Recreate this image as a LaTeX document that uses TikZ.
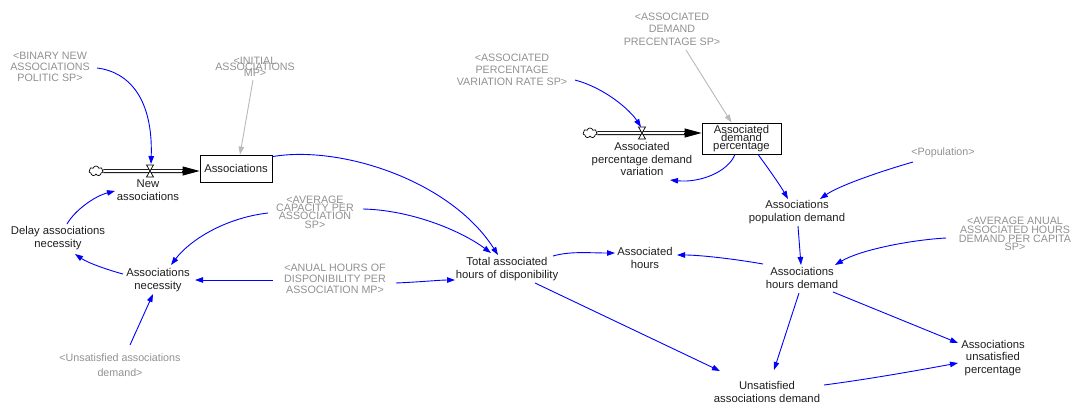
\documentclass[tikz,border=0pt]{standalone}
\usepackage{fontspec}
\setmainfont{Liberation Sans}
\usetikzlibrary{arrows.meta,calc,shapes.symbols}
\definecolor{linkblue}{RGB}{0,0,255}
\definecolor{ghosttext}{RGB}{145,145,145}
\definecolor{ghostlink}{RGB}{185,185,185}
\definecolor{ink}{RGB}{30,30,30}

\begin{document}
\begin{tikzpicture}[x=1pt,y=-1pt,
  var/.style={font={\fontsize{11.3}{#1}\selectfont\lineskiplimit=-20pt}, text=ink, align=center, inner sep=1pt},
  var/.default=12.5,
  ghost/.style={font={\fontsize{10.7}{#1}\selectfont\lineskiplimit=-20pt}, text=ghosttext, align=center, inner sep=1pt},
  ghost/.default=12,
  level/.style={draw=black, line width=0.8pt, fill=white, minimum width=72pt, minimum height=27pt, inner sep=0pt},
  link/.style={draw=linkblue, line width=0.9pt, -{Triangle[length=8pt,width=5.5pt]}},
  glink/.style={draw=ghostlink, line width=0.9pt, -{Triangle[length=8pt,width=5.5pt]}},
  pipe/.style={draw=black, double=white, double distance=2.4pt, line width=0.8pt},
  flowtip/.style={-{Triangle[length=17pt,width=9pt]}, line width=0.8pt},
  source/.style={cloud, cloud puffs=7, aspect=1.4, draw, line width=0.7pt, inner sep=0pt, minimum width=14pt, minimum height=10pt},
  valve/.pic={\draw[fill=white, line width=0.7pt] (-3.5,-6) -- (3.5,-6) -- (-3.5,6) -- (3.5,6) -- cycle;},
]
\useasboundingbox (0,0) rectangle (1072,405);

% ---- stock and flow: Associations ----
\node[ghost=11.3] (binary) at (50,67) {<BINARY NEW\\ASSOCIATIONS\\POLITIC SP>};
\node[ghost=5.7] (initial) at (255,67) {<INITIAL\\ASSOCIATIONS\\MP>};
\node[source] (cloudA) at (96,171) {};
\coordinate (valveA) at (150,171);
\node[var] (newassoc) at (148,190) {New\\associations};
\node[var,level] (assoc) at (236,168.5) {Associations};
\draw[pipe] (cloudA.east) -- ($(assoc.west)+(-15,2.5)$);
\draw[flowtip] ($(assoc.west)+(-18,2.5)$) -- ($(assoc.west)+(0,2.5)$);
\pic at (valveA) {valve};

% ---- left auxiliaries ----
\node[var] (delay) at (58,238) {Delay associations\\necessity};
\node[var] (need) at (158,280) {Associations\\necessity};
\node[ghost=14.5] (unsatext) at (120,365) {<Unsatisfied associations\\demand>};
\node[ghost=8.3] (avgcap) at (315,212) {<AVERAGE\\CAPACITY PER\\ASSOCIATION\\SP>};
\node[ghost=11.3] (anual) at (335,279) {<ANUAL HOURS OF\\DISPONIBILITY PER\\ASSOCIATION MP>};
\node[var] (total) at (507,269) {Total associated\\hours of disponibility};
\node[var] (ahours) at (645,258) {Associated\\hours};

% ---- stock and flow: demand percentage ----
\node[ghost=12.5] (adpsp) at (672,29) {<ASSOCIATED\\DEMAND\\PRECENTAGE SP>};
\node[ghost=12.3] (apvr) at (512,70) {<ASSOCIATED\\PERCENTAGE\\VARIATION RATE SP>};
\node[source] (cloudB) at (590,133) {};
\coordinate (valveB) at (642,133);
\node[var=8.3,level,minimum width=79pt,minimum height=31pt] (adp) at (741.5,138.5) {Associated\\demand\\percentage};
\draw[pipe] (cloudB.east) -- ($(adp.west)+(-15,-5.5)$);
\draw[flowtip] ($(adp.west)+(-18,-5.5)$) -- ($(adp.west)+(0,-5.5)$);
\pic at (valveB) {valve};
\node[var] (apdv) at (642,159) {Associated\\percentage demand\\variation};

% ---- right auxiliaries ----
\node[var] (popdem) at (797,212) {Associations\\population demand};
\node[ghost] (pop) at (943,153) {<Population>};
\node[ghost=8.7] (avganual) at (1015,234) {<AVERAGE ANUAL\\ASSOCIATED HOURS\\DEMAND PER CAPITA\\SP>};
\node[var] (hdem) at (802,278) {Associations\\hours demand};
\node[var] (unsat) at (767,392) {Unsatisfied\\associations demand};
\node[var] (upct) at (993,358) {Associations\\unsatisfied\\percentage};

% ---- links ----
\draw[link] ($(binary)+(47,1)$) .. controls (130,72) and (153,100) .. ($(valveA)+(1,-7)$);
\draw[glink] ($(initial)+(-2,13)$) -- ($(assoc.north)+(4,0)$);
\draw[link] ($(delay)+(9,-14)$) .. controls (75,210) and (95,196) .. ($(newassoc)+(-33,1)$);
\draw[link] ($(need)+(-35,-6)$) .. controls (108,270) and (88,263) .. ($(delay)+(17,16)$);
\draw[link] ($(unsatext)+(10,-20)$) -- ($(need)+(-5,14)$);
\draw[link] ($(avgcap)+(-47,1)$) .. controls (225,218) and (190,240) .. ($(need)+(13,-15)$);
\draw[link] ($(avgcap)+(48,-3)$) .. controls (410,210) and (460,230) .. ($(total)+(-16,-16)$);
\draw[link] ($(assoc.north east)+(0,2)$) .. controls (340,145) and (450,180) .. ($(total)+(-9,-14)$);
\draw[link] ($(anual)+(-62,1)$) -- ($(need)+(37,0)$);
\draw[link] ($(anual)+(61,4)$) .. controls (420,282) and (440,280) .. ($(total)+(-52,11)$);
\draw[link] ($(total)+(46,-13)$) .. controls (570,251) and (590,253) .. ($(ahours)+(-30,-5)$);
\draw[link] ($(hdem)+(-39,-14)$) .. controls (735,259) and (700,255) .. ($(ahours)+(32,-3)$);
\draw[link] ($(total)+(28,14)$) -- ($(unsat)+(-47,-21)$);
\draw[link] ($(hdem)+(-3,15)$) -- ($(unsat)+(7,-22)$);
\draw[link] ($(hdem)+(31,14)$) -- ($(upct)+(-35,-15)$);
\draw[link] ($(unsat)+(57,-7)$) .. controls (870,379) and (920,370) .. ($(upct)+(-35,5)$);
\draw[glink] ($(adpsp)+(14,21)$) -- ($(adp.north)+(-10,0)$);
\draw[link] ($(apvr)+(63,10)$) .. controls (605,88) and (630,110) .. ($(valveB)+(-1,-6)$);
\draw[link] ($(adp.south)+(-6.5,0)$) .. controls (728,172) and (700,183) .. ($(apdv)+(28,21)$);
\draw[link] ($(adp.south)+(16.5,0)$) .. controls (768,168) and (780,185) .. ($(popdem)+(-9,-13)$);
\draw[link] ($(pop)+(-30,9)$) .. controls (885,170) and (840,185) .. ($(popdem)+(23,-13)$);
\draw[link] ($(popdem)+(1,14)$) -- ($(hdem)+(-1,-13)$);
\draw[link] ($(avganual)+(-69,4)$) .. controls (910,240) and (860,250) .. ($(hdem)+(33,-13)$);
\end{tikzpicture}
\end{document}
